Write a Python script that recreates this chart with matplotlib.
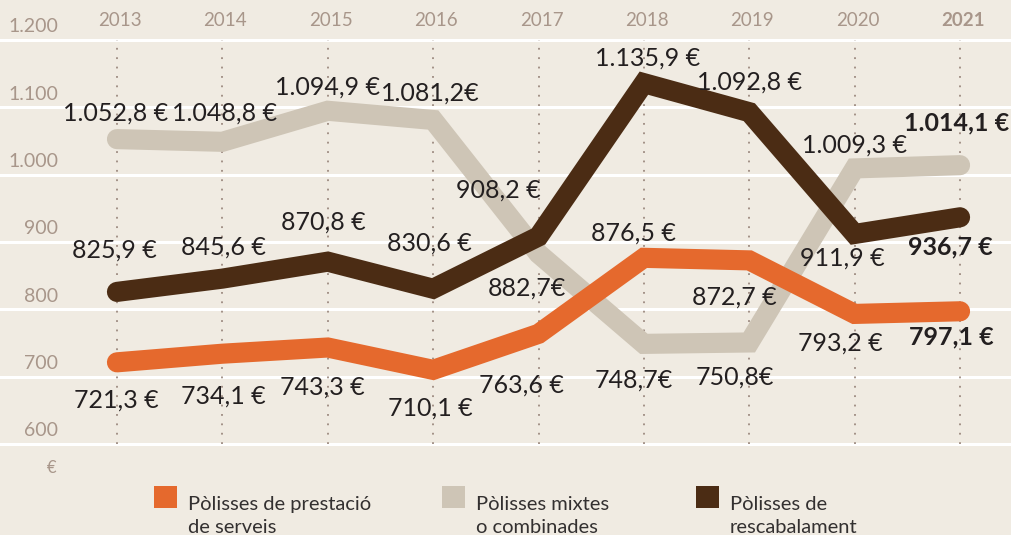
import matplotlib
matplotlib.use("Agg")
import matplotlib.pyplot as plt
from matplotlib.patches import Rectangle

years = [2013, 2014, 2015, 2016, 2017, 2018, 2019, 2020, 2021]
prestacio = [721.3, 734.1, 743.3, 710.1, 763.6, 876.5, 872.7, 793.2, 797.1]
mixtes = [1052.8, 1048.8, 1094.9, 1081.2, 882.7, 748.7, 750.8, 1009.3, 1014.1]
rescabalament = [825.9, 845.6, 870.8, 830.6, 908.2, 1135.9, 1092.8, 911.9, 936.7]
yticks = [600, 700, 800, 900, 1000, 1100, 1200]
ytick_labels = ["600", "700", "800", "900", "1.000", "1.100", "1.200"]
legend_labels = [("Pòlisses de prestació", "de serveis"), ("Pòlisses mixtes", "o combinades"),
                 ("Pòlisses de", "rescabalament")]

# label offsets in pixels (dx, dy)
off_mixtes = [(-1, 26), (2, 29), (0, 24), (-3, 27), (-12, -34), (-10, -36), (-14, -35), (0, 23), (-3, 42)]
off_resc = [(-3, 42), (1, 32), (-4, 40), (-4, 46), (-40, 46), (4, 25), (0, 30), (-12, -24), (-10, -30)]
off_prest = [(-1, -38), (1, -42), (-5, -40), (-3, -38), (-17, -51), (-10, 25), (-15, -37), (-14, -29), (-9, -26)]

BG = "#f0ebe2"
ORANGE = "#e5692d"
GREY = "#cec5b6"
BROWN = "#4b2c14"
AXCOL = "#a8968a"
TXT = "#231f20"

def fmt(v):
    s = f"{v:,.1f}"
    return s.replace(",", "X").replace(".", ",").replace("X", ".") + " €"

fig = plt.figure(figsize=(10.12, 5.35), dpi=100, facecolor=BG)
ax = fig.add_axes([0, (535 - 444) / 535, 1, (444 - 40) / 535])
ax.set_facecolor(BG)
ax.set_xlim(2011.89, 2021.493)
ax.set_ylim(600, 1200)
for s in ax.spines.values():
    s.set_visible(False)
ax.set_xticks([]); ax.set_yticks([])

for y in yticks:
    ax.axhline(y, color="white", lw=2.2, zorder=1, clip_on=False)
for x in years:
    ax.plot([x, x], [600, 1200], color="#9c8a80", lw=1.3, linestyle=(0, (1, 4.2)), zorder=2)

fontf = "Lato"
for data, col, offs, z in [(mixtes, GREY, off_mixtes, 3), (rescabalament, BROWN, off_resc, 4),
                           (prestacio, ORANGE, off_prest, 5)]:
    ax.plot(years, data, color=col, lw=14.5, solid_capstyle="round", solid_joinstyle="miter", zorder=z)
    for i, (x, v) in enumerate(zip(years, data)):
        dx, dy = offs[i]
        bold = (i == len(years) - 1)
        txt = fmt(v)
        if v in (1081.2, 882.7, 748.7, 750.8):
            txt = txt.replace(" €", "€")
        ax.annotate(txt, (x, v), xytext=(dx, dy), textcoords="offset pixels",
                    ha="center", va="center", fontsize=18, color=TXT, family=fontf,
                    fontweight="bold" if bold else "normal", zorder=10)

# y tick labels
for y, lab in zip(yticks, ytick_labels):
    ax.annotate(lab, (2011.89, y), xytext=(58, 13), textcoords="offset pixels",
                ha="right", va="center", fontsize=14, color=AXCOL, family=fontf)
# year labels
for x in years:
    bold = x == years[-1]
    ax.annotate(str(x), (x, 1200), xytext=(3, 20), textcoords="offset pixels",
                ha="center", va="center", fontsize=13.5, color=AXCOL, family=fontf,
                fontweight="bold" if bold else "normal")

fig.text(52 / 1012, 1 - 468 / 535, "€", fontsize=12, color=AXCOL, family=fontf,
         ha="center", va="center")

# legend
for xl, col, (l1, l2) in [(154, ORANGE, legend_labels[0]), (442, GREY, legend_labels[1]),
                          (696, BROWN, legend_labels[2])]:
    fig.patches.append(Rectangle((xl / 1012, 1 - 508 / 535), 23 / 1012, 22 / 535,
                                 transform=fig.transFigure, facecolor=col, edgecolor="none"))
    fig.text((xl + 34) / 1012, 1 - 510 / 535, l1, fontsize=14.5, color="#333030",
             family=fontf, ha="left", va="baseline")
    fig.text((xl + 34) / 1012, 1 - 533 / 535, l2, fontsize=14.5, color="#333030",
             family=fontf, ha="left", va="baseline")

fig.savefig("out.png", dpi=100, facecolor=BG)
